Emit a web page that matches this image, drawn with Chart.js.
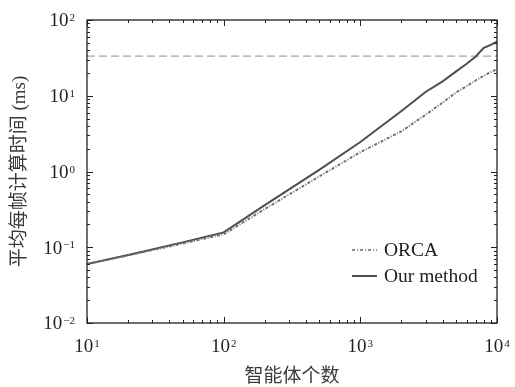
<!DOCTYPE html>
<html><head><meta charset="utf-8">
<script src="https://cdn.jsdelivr.net/npm/chart.js@4/dist/chart.umd.min.js"></script>
<style>html,body{margin:0;padding:0;background:#fff;}#wrap{width:515px;height:387px;}</style>
</head><body><div id="wrap"><canvas id="c" width="515" height="387"></canvas></div>
<script>
const agentCounts = [10,20,50,100,200,500,1000,2000,3000,4000,5000,6000,7000,8000,9000,10000];
const orcaTimes   = [0.060,0.078,0.112,0.148,0.32,0.86,1.8,3.4,5.6,8.1,11.0,13.4,16.0,18.3,20.5,22.5];
const ourTimes    = [0.060,0.079,0.116,0.157,0.36,1.05,2.45,6.3,11.2,15.5,20.8,26.5,33.0,43.0,47.0,52.0];
const realtimeLimit = 33.3;
const xTickExps = [1,2,3,4];
const yTickExps = [-2,-1,0,1,2];
const seriesNames = ['ORCA','Our method'];
const xTitle = '智能体个数';
const yTitle = '平均每帧计算时间 (ms)';

const SERIF = '"Liberation Serif","Noto Sans CJK SC",serif';

function drawPow(ctx, exp, x, y, align){
  const base = '10';
  const sup = exp < 0 ? '\u2212' + Math.abs(exp) : String(exp);
  ctx.font = '19px ' + SERIF;
  const wb = ctx.measureText(base).width;
  ctx.font = '11px ' + SERIF;
  const ws = ctx.measureText(sup).width;
  const total = wb + 1 + ws;
  let sx = align === 'center' ? x - total/2 : x - total;
  ctx.textAlign = 'left';
  ctx.textBaseline = 'alphabetic';
  ctx.font = '19px ' + SERIF;
  ctx.fillText(base, sx, y + 6.3);
  ctx.font = '11px ' + SERIF;
  ctx.fillText(sup, sx + wb + 1, y + 1);
}

const decor = {
  id: 'decor',
  afterDraw(chart){
    const ctx = chart.ctx, a = chart.chartArea;
    const xs = chart.scales.x, ys = chart.scales.y;
    ctx.save();
    ctx.strokeStyle = '#222';
    ctx.lineWidth = 1;
    ctx.beginPath();
    for (let e = 1; e <= 4; e++){
      for (let m = 1; m <= 9; m++){
        const v = m * Math.pow(10, e);
        if (v > 10000) break;
        const px = Math.round(xs.getPixelForValue(v)) + 0.5;
        const len = m === 1 ? 6 : 3;
        ctx.moveTo(px, a.bottom); ctx.lineTo(px, a.bottom - len);
        ctx.moveTo(px, a.top); ctx.lineTo(px, a.top + len);
      }
    }
    for (let e = -2; e <= 2; e++){
      for (let m = 1; m <= 9; m++){
        const v = m * Math.pow(10, e);
        if (v > 100) break;
        const py = Math.round(ys.getPixelForValue(v)) + 0.5;
        const len = m === 1 ? 6 : 3;
        ctx.moveTo(a.left, py); ctx.lineTo(a.left + len, py);
        ctx.moveTo(a.right, py); ctx.lineTo(a.right - len, py);
      }
    }
    ctx.stroke();
    ctx.lineWidth = 1.3;
    ctx.strokeRect(a.left, a.top, a.right - a.left, a.bottom - a.top);
    ctx.fillStyle = '#222';
    xTickExps.forEach(e => drawPow(ctx, e, xs.getPixelForValue(Math.pow(10, e)), 346, 'center'));
    yTickExps.forEach(e => drawPow(ctx, e, 75, ys.getPixelForValue(Math.pow(10, e)), 'right'));
    ctx.fillStyle = '#3a3a3a';
    ctx.font = '19px ' + SERIF;
    ctx.textAlign = 'center';
    ctx.textBaseline = 'middle';
    ctx.fillText(xTitle, (a.left + a.right)/2, 377);
    ctx.save();
    ctx.translate(20, (a.top + a.bottom)/2);
    ctx.rotate(-Math.PI/2);
    ctx.fillText(yTitle, 0, 0);
    ctx.restore();
    const ds = chart.data.datasets;
    const rows = [250, 276];
    [0,1].forEach(i => {
      const d = ds[i];
      ctx.strokeStyle = d.borderColor;
      ctx.lineWidth = i === 0 ? 1.3 : d.borderWidth;
      ctx.setLineDash(i === 0 ? [3,2,1,2] : []);
      ctx.beginPath();
      ctx.moveTo(352, rows[i]); ctx.lineTo(377, rows[i]);
      ctx.stroke();
      ctx.setLineDash([]);
      ctx.fillStyle = '#222';
      ctx.font = '19.5px ' + SERIF;
      ctx.textAlign = 'left';
      ctx.textBaseline = 'middle';
      ctx.fillText(d.label, 384, rows[i] + 1);
    });
    ctx.restore();
  }
};

new Chart(document.getElementById('c'), {
  type: 'line',
  data: {
    datasets: [
      { label: seriesNames[0], data: agentCounts.map((n,i)=>({x:n,y:orcaTimes[i]})),
        borderColor: '#6e6e6e', borderWidth: 1.9, borderDash: [3,1.5,1,1.5], pointRadius: 0, tension: 0 },
      { label: seriesNames[1], data: agentCounts.map((n,i)=>({x:n,y:ourTimes[i]})),
        borderColor: '#4e4e4e', borderWidth: 2, pointRadius: 0, tension: 0 },
      { label: 'limit', data: [{x:10,y:realtimeLimit},{x:10000,y:realtimeLimit}],
        borderColor: '#a8a8a8', borderWidth: 1.2, borderDash: [8,4], pointRadius: 0 }
    ]
  },
  options: {
    responsive: false,
    devicePixelRatio: 1,
    animation: false,
    layout: { padding: { top: 20, right: 18, left: 0, bottom: 0 } },
    plugins: { legend: { display: false }, tooltip: { enabled: false } },
    scales: {
      x: { type: 'logarithmic', min: 10, max: 10000,
           ticks: { display: false }, grid: { display: false, drawTicks: false }, border: { display: false },
           afterFit(s){ s.height = 64; } },
      y: { type: 'logarithmic', min: 0.01, max: 100,
           ticks: { display: false }, grid: { display: false, drawTicks: false }, border: { display: false },
           afterFit(s){ s.width = 87; } }
    }
  },
  plugins: [decor]
});
</script>
</body></html>
